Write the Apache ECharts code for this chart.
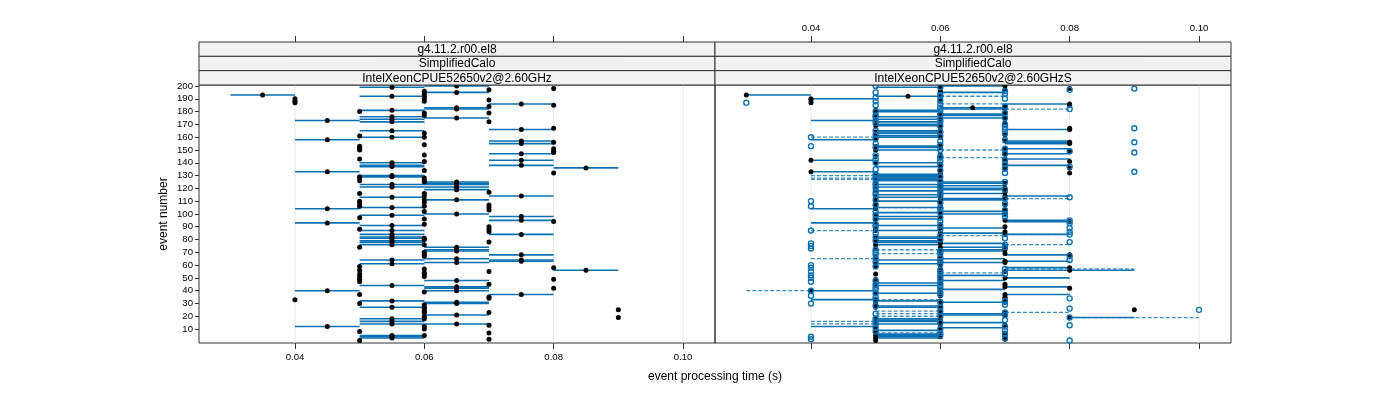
<!DOCTYPE html>
<html><head><meta charset="utf-8">
<script src="https://cdn.jsdelivr.net/npm/echarts@6/dist/echarts.min.js"></script>
<style>html,body{margin:0;padding:0;background:#fff}#c{width:1400px;height:400px}</style>
</head><body><div id="c"></div>
<script>
// ---------------- DATA (times in milliseconds, y = event number) ----------------
const stripLevel1 = 'g4.11.2.r00.el8';
const stripLevel2 = 'SimplifiedCalo';
const panelNames = ['IntelXeonCPUE52650v2@2.60GHz', 'IntelXeonCPUE52650v2@2.60GHzS'];
const xTicksMs = [40, 60, 80, 100];
const yTicks = [10, 20, 30, 40, 50, 60, 70, 80, 90, 100, 110, 120, 130, 140, 150, 160, 170, 180, 190, 200];

// Left panel: events grouped by plotted time (point, range low, range high)
const leftAt35 = [193];
const leftAt40 = [190, 188, 187, 33];
const leftAt45 = [173, 158, 133, 104, 93, 40, 12];
const leftAt50 = [180, 161, 153, 152, 151, 150, 143, 129, 128, 126, 116, 110, 108, 106, 97, 88, 74, 59, 56, 53, 51, 49, 47, 37, 30, 8, 1];
const leftAt55 = [199, 192, 181, 176, 174, 172, 165, 160, 140, 138, 137, 130, 129, 123, 121, 113, 105, 99, 91, 87, 84, 82, 81, 79, 78, 76, 64, 61, 44, 32, 27, 18, 16, 14, 5, 4, 3];
const leftAt60 = [196, 194, 192, 190, 188, 179, 177, 163, 160, 154, 146, 141, 134, 128, 126, 125, 116, 114, 111, 109, 106, 102, 96, 92, 81, 80, 76, 70, 68, 67, 57, 54, 53, 51, 39, 29, 27, 26, 24, 23, 20, 18, 12, 10, 5];
const leftAt65 = [200, 195, 183, 182, 175, 125, 124, 123, 121, 119, 111, 100, 74, 72, 71, 65, 62, 48, 43, 42, 40, 31, 30, 21, 14];
const leftAt70 = [197, 189, 184, 179, 172, 117, 107, 105, 103, 90, 88, 86, 78, 55, 45, 35, 34, 23, 13, 7, 2];
const leftAt75 = [186, 166, 157, 155, 147, 142, 138, 114, 98, 95, 84, 68, 64, 63, 37];
const leftAt80 = [198, 185, 167, 156, 151, 149, 148, 132, 94, 58, 49, 42];
const leftAt85 = [136, 56];
const leftAt90 = [25, 19];

// Right panel, first group (filled points, solid ranges)
const rs30r30to40 = [193];
const rs40r40to50 = [190, 142, 133, 40];
const rs40 = [189, 187];
const rs50r40to50 = [173, 158, 104, 93, 33, 12];
const rs55r50to60 = [192];
const rs65r60to70 = [183];
const rs50r50to60 = [181, 180, 176, 172, 169, 164, 161, 153, 150, 140, 130, 128, 126, 123, 121, 118, 113, 110, 105, 96, 87, 82, 79, 76, 61, 44, 38, 27, 18, 16, 9, 5, 3];
const rs60r50to60 = [199, 174, 170, 165, 163, 160, 152, 137, 131, 129, 127, 115, 101, 98, 91, 81, 78, 64, 46, 32, 28, 17, 14, 6, 4];
const rs60r60to70 = [195, 178, 177, 125, 122, 119, 116, 111, 102, 89, 85, 77, 74, 71, 65, 52, 48, 41, 22, 15, 11];
const rs70r60to70 = [200, 182, 175, 124, 120, 112, 100, 72, 62, 31, 21];
const rs70r70to80 = [157, 151, 147, 143, 138, 114, 95, 84, 63, 50, 43, 37];
const rs80r70to80 = [186, 166, 156, 155, 94, 68, 58];
const rs80r70to90 = [56];
const rs80r80to90 = [19];
const rs50 = [159, 145, 108, 99, 97, 88, 73, 66, 59, 53, 49, 47, 30, 8, 1];
const rs60 = [196, 194, 191, 188, 168, 154, 146, 144, 139, 134, 109, 106, 92, 83, 80, 70, 67, 60, 57, 54, 51, 39, 36, 29, 26, 24, 20, 10];
const rs70 = [197, 184, 179, 171, 162, 148, 135, 117, 107, 103, 90, 86, 75, 69, 55, 45, 35, 34, 23, 13, 7, 2];
const rs80 = [198, 185, 167, 149, 141, 136, 132, 42];
const rs90 = [25];

// Right panel, second group (open points, dashed ranges)
const rd30 = [187];
const rd40 = [153, 110, 106, 77, 75, 73, 60, 58, 55, 52, 50, 47, 36, 30, 4, 2];
const rd40r40to50 = [160, 87];
const rd40r30to40 = [40];
const rd50r40to50 = [130, 128, 127, 65, 16, 14];
const rd50r50to60 = [72, 33, 22];
const rd60r50to60 = [105, 69, 24, 20, 7];
const rd60r60to70 = [192, 186, 150, 144, 83, 54];
const rd70r70to80 = [112, 76, 23];
const rd80r70to80 = [182, 84];
const rd70r70to90 = [57];
const rd80r80to100 = [19];
const rd50 = [200, 195, 191, 188, 185, 180, 177, 176, 173, 171, 165, 162, 159, 155, 152, 146, 143, 140, 135, 131, 124, 122, 120, 117, 115, 111, 107, 102, 99, 96, 92, 90, 85, 82, 79, 70, 68, 62, 59, 48, 45, 43, 41, 38, 35, 28, 18, 11, 8];
const rd60 = [199, 193, 189, 183, 181, 178, 174, 172, 169, 164, 161, 157, 154, 145, 141, 138, 134, 129, 126, 123, 121, 118, 116, 114, 109, 104, 101, 97, 94, 91, 88, 80, 71, 66, 63, 61, 56, 51, 49, 46, 44, 42, 39, 37, 31, 27, 15, 10, 5];
const rd70 = [196, 194, 190, 184, 179, 175, 170, 168, 166, 163, 158, 151, 147, 142, 139, 136, 132, 125, 119, 108, 103, 100, 98, 81, 74, 53, 32, 29, 21, 17, 12, 9, 6, 3];
const rd80 = [197, 149, 137, 113, 95, 93, 89, 86, 78, 67, 64, 34, 26, 13, 1];
const rd90 = [198, 167, 156, 148, 133];
const rd100 = [25];

// group tables: [point, rangeLow, rangeHigh, events]
const leftGroups = [
  [35, 30, 40, leftAt35], [40, 40, 40, leftAt40], [45, 40, 50, leftAt45], [50, 50, 50, leftAt50],
  [55, 50, 60, leftAt55], [60, 60, 60, leftAt60], [65, 60, 70, leftAt65], [70, 70, 70, leftAt70],
  [75, 70, 80, leftAt75], [80, 80, 80, leftAt80], [85, 80, 90, leftAt85], [90, 90, 90, leftAt90]
];
const rightSolidGroups = [
  [30, 30, 40, rs30r30to40], [40, 40, 50, rs40r40to50], [40, 40, 40, rs40], [50, 40, 50, rs50r40to50],
  [55, 50, 60, rs55r50to60], [65, 60, 70, rs65r60to70], [50, 50, 60, rs50r50to60], [60, 50, 60, rs60r50to60],
  [60, 60, 70, rs60r60to70], [70, 60, 70, rs70r60to70], [70, 70, 80, rs70r70to80], [80, 70, 80, rs80r70to80],
  [80, 70, 90, rs80r70to90], [80, 80, 90, rs80r80to90], [50, 50, 50, rs50], [60, 60, 60, rs60],
  [70, 70, 70, rs70], [80, 80, 80, rs80], [90, 90, 90, rs90]
];
const rightDashGroups = [
  [30, 30, 30, rd30], [40, 40, 40, rd40], [40, 40, 50, rd40r40to50], [40, 30, 40, rd40r30to40],
  [50, 40, 50, rd50r40to50], [50, 50, 60, rd50r50to60], [60, 50, 60, rd60r50to60], [60, 60, 70, rd60r60to70],
  [70, 70, 80, rd70r70to80], [80, 70, 80, rd80r70to80], [70, 70, 90, rd70r70to90], [80, 80, 100, rd80r80to100],
  [50, 50, 50, rd50], [60, 60, 60, rd60], [70, 70, 70, rd70], [80, 80, 80, rd80], [90, 90, 90, rd90], [100, 100, 100, rd100]
];

// ---------------- LAYOUT / STYLE ----------------
const FONT = "'Liberation Sans', Arial, Helvetica, sans-serif";
const X_MIN = 25.16, X_MAX = 104.95;
const Y_MIN = -0.9, Y_MAX = 200.8;
const PANEL_LEFT = [199, 715], PANEL_W = 516;
const PANEL_TOP = 85, PANEL_H = 258;
const STRIP_TOP = 42, STRIP_H = (85 - 42) / 3;
const BLUE = '#0a72b4';

function expand(groups) {
  const out = [];
  groups.forEach(([pt, lo, hi, evs]) => evs.forEach(e => out.push([e, pt, lo, hi])));
  return out;
}
const leftData = expand(leftGroups);
const rsData = expand(rightSolidGroups);
const rdData = expand(rightDashGroups);

function segSeries(gi, data, dashed, z) {
  return {
    type: 'custom', xAxisIndex: gi, yAxisIndex: gi, z: z, silent: true,
    encode: { x: [2, 3], y: 0 },
    data: data,
    renderItem: function (params, api) {
      const e = api.value(0), lo = api.value(2), hi = api.value(3);
      if (!(hi > lo)) return null;
      const p1 = api.coord([lo, e]), p2 = api.coord([hi, e]);
      return {
        type: 'line',
        shape: { x1: p1[0], y1: p1[1], x2: p2[0], y2: p2[1] },
        style: dashed ? { stroke: BLUE, lineWidth: 1.3, lineDash: [4, 2], opacity: 0.8 }
                      : { stroke: BLUE, lineWidth: 1.6 }
      };
    }
  };
}
function pointSeries(gi, data, open, z) {
  return {
    type: 'scatter', xAxisIndex: gi, yAxisIndex: gi, z: z, silent: true,
    symbol: 'circle', symbolSize: 5,
    itemStyle: open ? { color: 'rgba(0,0,0,0)', borderColor: BLUE, borderWidth: 1.4, opacity: 1 }
                    : { color: '#000', opacity: 1 },
    data: data.map(d => [d[1], d[0]])
  };
}
function gridLineSeries(gi) {
  return {
    type: 'custom', xAxisIndex: gi, yAxisIndex: gi, z: 0, silent: true,
    encode: { x: 0 },
    data: xTicksMs.map(v => [v]),
    renderItem: function (params, api) {
      const v = api.value(0);
      const a = api.coord([v, Y_MIN]), b = api.coord([v, Y_MAX]);
      return { type: 'line', shape: { x1: a[0], y1: a[1], x2: b[0], y2: b[1] },
               style: { stroke: '#e6e6e6', lineWidth: 1 } };
    }
  };
}
function xAxisCfg(gi, position, showLabels) {
  return {
    type: 'value', gridIndex: gi, position: position, min: X_MIN, max: X_MAX,
    axisLine: { show: false, onZero: false }, splitLine: { show: false },
    axisTick: { show: true, length: 6, lineStyle: { color: '#333' }, customValues: xTicksMs },
    axisLabel: { show: showLabels, customValues: xTicksMs, formatter: v => (v / 1000).toFixed(2),
                 fontSize: 9.6, color: '#000', margin: 9, fontFamily: FONT }
  };
}

const grids = [
  { left: PANEL_LEFT[0], top: PANEL_TOP, width: PANEL_W, height: PANEL_H, show: true, borderColor: '#333', borderWidth: 1, backgroundColor: 'transparent', outerBoundsMode: 'none' },
  { left: PANEL_LEFT[1], top: PANEL_TOP, width: PANEL_W, height: PANEL_H, show: true, borderColor: '#333', borderWidth: 1, backgroundColor: 'transparent', outerBoundsMode: 'none' },
  { left: PANEL_LEFT[0], top: STRIP_TOP, width: PANEL_W, height: PANEL_TOP + PANEL_H - STRIP_TOP, show: false, outerBoundsMode: 'none' },
  { left: PANEL_LEFT[1], top: STRIP_TOP, width: PANEL_W, height: PANEL_TOP + PANEL_H - STRIP_TOP, show: false, outerBoundsMode: 'none' }
];

const xAxes = [
  xAxisCfg(0, 'bottom', true),
  xAxisCfg(1, 'bottom', false),
  xAxisCfg(2, 'top', false),
  xAxisCfg(3, 'top', true)
];
const yAxes = [
  { type: 'value', gridIndex: 0, min: Y_MIN, max: Y_MAX, axisLine: { show: false, onZero: false }, splitLine: { show: false },
    axisTick: { show: true, length: 4, lineStyle: { color: '#333' }, customValues: yTicks },
    axisLabel: { customValues: yTicks, fontSize: 9.6, color: '#000', margin: 6, fontFamily: FONT } },
  { type: 'value', gridIndex: 1, min: Y_MIN, max: Y_MAX, show: false },
  { type: 'value', gridIndex: 2, min: 0, max: 1, show: false },
  { type: 'value', gridIndex: 3, min: 0, max: 1, show: false }
];

// strips
const graphics = [];
[0, 1].forEach(p => {
  const labels = [stripLevel1, stripLevel2, panelNames[p]];
  labels.forEach((t, i) => {
    const y = STRIP_TOP + i * STRIP_H;
    graphics.push({ type: 'rect', silent: true, z: 10,
      shape: { x: PANEL_LEFT[p], y: y, width: PANEL_W, height: STRIP_H },
      style: { fill: '#f2f2f2', stroke: '#333', lineWidth: 1 } });
    graphics.push({ type: 'text', silent: true, z: 11,
      x: PANEL_LEFT[p] + PANEL_W / 2, y: y + STRIP_H / 2 + 0.5,
      style: { text: t, align: 'center', verticalAlign: 'middle', fontSize: 12, fontFamily: FONT, fill: '#000' } });
  });
});
graphics.push({ type: 'text', silent: true, x: 164, y: PANEL_TOP + PANEL_H / 2, rotation: Math.PI / 2,
  style: { text: 'event number', align: 'center', verticalAlign: 'middle', fontSize: 12, fontFamily: FONT, fill: '#000' } });
graphics.push({ type: 'text', silent: true, x: (PANEL_LEFT[0] + PANEL_LEFT[1] + PANEL_W) / 2, y: 377,
  style: { text: 'event processing time (s)', align: 'center', verticalAlign: 'middle', fontSize: 12, fontFamily: FONT, fill: '#000' } });

const chart = echarts.init(document.getElementById('c'), null, { renderer: 'canvas' });
chart.setOption({
  animation: false,
  backgroundColor: '#fff',
  textStyle: { fontFamily: FONT },
  grid: grids,
  xAxis: xAxes,
  yAxis: yAxes,
  graphic: graphics,
  series: [
    gridLineSeries(0),
    gridLineSeries(1),
    segSeries(0, leftData, false, 2),
    pointSeries(0, leftData, false, 3),
    segSeries(1, rsData, false, 2),
    pointSeries(1, rsData, false, 3),
    segSeries(1, rdData, true, 4),
    pointSeries(1, rdData, true, 5)
  ]
});
</script></body></html>
